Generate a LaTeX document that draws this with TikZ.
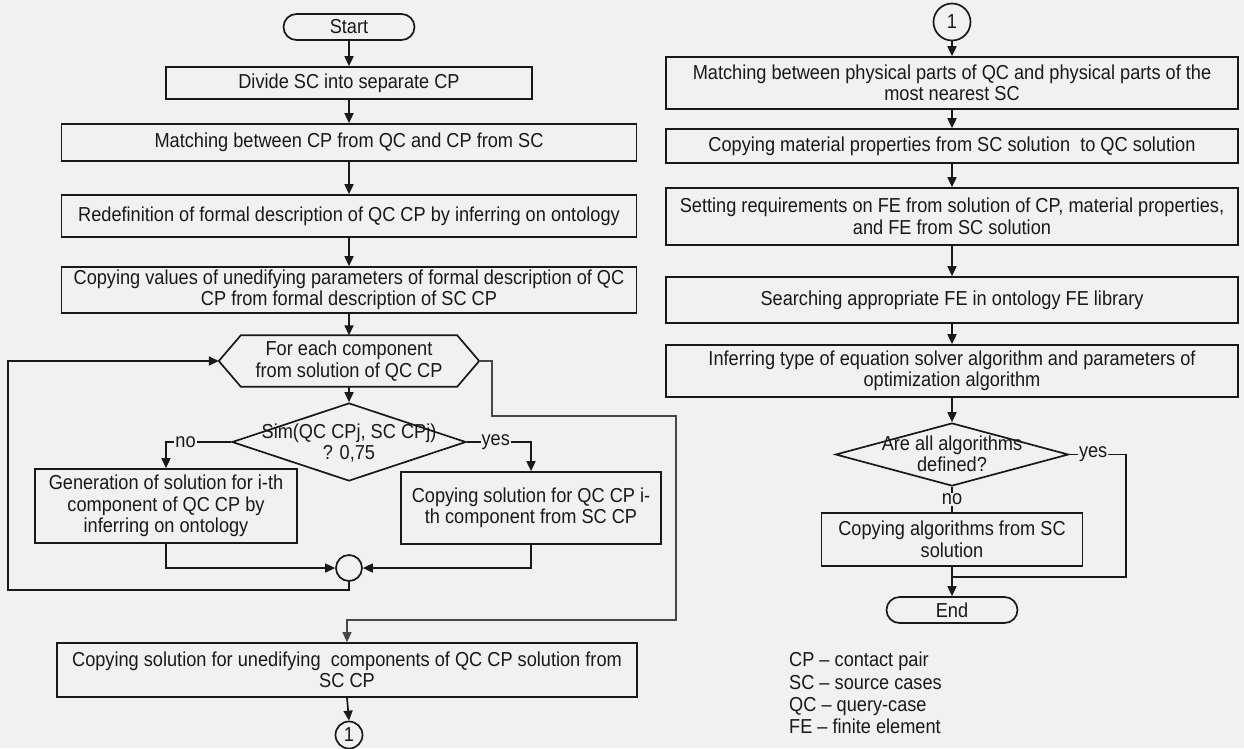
\documentclass[tikz,border=0pt]{standalone}
\usepackage{fontspec}
\setmainfont[FakeStretch=0.9]{Liberation Sans}
\usetikzlibrary{arrows.meta,shapes.geometric,calc}
\definecolor{bg}{RGB}{241,241,241}
\definecolor{ink}{RGB}{25,25,25}
\begin{document}
\begin{tikzpicture}[x=1pt,y=-1pt,
  font=\fontsize{20.2}{21.5}\selectfont,
  every node/.style={text=ink},
  box/.style={draw=ink, line width=1.7pt, rectangle, inner sep=2pt, align=center},
  term/.style={draw=ink, line width=1.7pt, rectangle, rounded corners=13pt, align=center, inner sep=1pt},
  dia/.style={draw=ink, line width=1.7pt, diamond, inner sep=0pt},
  conn/.style={draw=ink, line width=1.7pt, circle, inner sep=0pt},
  ln/.style={draw=ink, line width=1.7pt},
  arr/.style={draw=ink, line width=1.7pt, -{Triangle[length=10pt,width=9pt]}},
  thinarr/.style={draw=ink!80, line width=1.1pt, -{Triangle[length=10pt,width=9pt]}},
  lbl/.style={fill=bg, inner sep=1pt},
]
\fill[bg] (0,0) rectangle (1244,748);
\useasboundingbox (0,0) rectangle (1244,748);

% ---------------- left column ----------------
\node[term, minimum width=131pt, minimum height=26pt] (start) at (349,27) {Start};
\node[box, minimum width=366pt, minimum height=32pt] (b1) at (349,83) {Divide SC into separate CP};
\node[box, minimum width=575pt, minimum height=37pt] (b2) at (349,142.5) {Matching between CP from QC and CP from SC};
\node[box, minimum width=575pt, minimum height=42pt] (b3) at (349,216) {Redefinition of formal description of QC CP by inferring on ontology};
\node[box, minimum width=575pt, minimum height=46pt] (b4) at (349,290) {Copying values of unedifying parameters of formal description of QC\\CP from formal description of SC CP};

\node[rectangle, minimum width=216pt, minimum height=51pt, inner sep=0pt, align=center] (hex) at (349,361) {For each component\\from solution of QC CP};
\coordinate (hexL) at ($(hex.west)+(-22,0)$);
\coordinate (hexR) at ($(hex.east)+(22,0)$);
\draw[ln, line join=miter] (hex.north west) -- (hex.north east) -- (hexR) -- (hex.south east) -- (hex.south west) -- (hexL) -- cycle;

\node[dia, minimum width=234pt, minimum height=78pt] (d1) at (349,442) {};
\node[align=center] (d1t) at (349,443) {Sim(QC CPj, SC CPj)\\? 0,75};

\node[box, minimum width=262pt, minimum height=74pt] (g) at (166,506) {Generation of solution for i-th\\component of QC CP by\\inferring on ontology};
\node[box, minimum width=260pt, minimum height=72pt] (c) at (531,508) {Copying solution for QC CP i-\\th component from SC CP};
\node[conn, minimum size=26pt] (j) at (349,568) {};

\node[box, minimum width=580pt, minimum height=54pt] (f) at (347,670) {Copying solution for unedifying\ \ components of QC CP solution from\\SC CP};
\node[conn, minimum size=27pt] (c1) at (349,735) {1};

\draw[arr] (start) -- (b1);
\draw[arr] (b1) -- (b2);
\draw[arr] (b2) -- (b3);
\draw[arr] (b3) -- (b4);
\draw[arr] (b4.south) -- (hex.north);
\draw[arr] (hex.south) -- (d1.north);
\draw[arr] (d1.west) -- node[lbl, pos=0.7] {no} (g.north |- d1.west) -- (g.north);
\draw[arr] (d1.east) -- node[lbl, pos=0.45] {yes} (c.north |- d1.east) -- (c.north);
\draw[arr] (g.south) -- (g.south |- j.west) -- (j.west);
\draw[arr] (c.south) -- (c.south |- j.east) -- (j.east);
\coordinate (loopL) at (8,590);
\draw[arr] (j.south) -- (j.south |- loopL) -- (loopL) -- (loopL |- hexL) -- (hexL);
\coordinate (ex1) at (492,416);
\coordinate (ex2) at (676,620);
\draw[thinarr] (hexR) -- (hexR -| ex1) -- (ex1) -- (ex1 -| ex2) -- (ex2) -- (ex2 -| f.north) -- (f.north);
\draw[arr] (f.south) -- (c1.north);

% ---------------- right column ----------------
\node[conn, minimum size=37pt] (c1r) at (952,22) {1};
\node[box, minimum width=572pt, minimum height=52pt] (r1) at (952,83) {Matching between physical parts of QC and physical parts of the\\most nearest SC};
\node[box, minimum width=572pt, minimum height=34pt] (r2) at (952,146) {Copying material properties from SC solution\ \ to QC solution};
\node[box, minimum width=572pt, minimum height=57pt] (r3) at (952,216.5) {Setting requirements on FE from solution of CP, material properties,\\and FE from SC solution};
\node[box, minimum width=572pt, minimum height=46pt] (r4) at (952,300) {Searching appropriate FE in ontology FE library};
\node[box, minimum width=572pt, minimum height=52pt] (r5) at (952,371) {Inferring type of equation solver algorithm and parameters of\\optimization algorithm};
\node[dia, minimum width=233pt, minimum height=63pt] (d2) at (952,454.5) {};
\node[align=center] (d2t) at (952,454) {Are all algorithms\\defined?};
\node[box, minimum width=261pt, minimum height=53pt] (a) at (952,539.5) {Copying algorithms from SC\\solution};
\node[term, minimum width=131pt, minimum height=26pt] (end) at (952,610) {End};

\draw[arr] (c1r) -- (r1);
\draw[arr] (r1) -- (r2);
\draw[arr] (r2) -- (r3);
\draw[arr] (r3) -- (r4);
\draw[arr] (r4) -- (r5);
\draw[arr] (r5) -- (d2.north);
\draw[ln] (d2.south) -- node[lbl] {no} (a.north);
\coordinate (yr) at (1126,577);
\draw[ln] (d2.east) -- node[lbl, pos=0.42] {yes} (d2.east -| yr) -- (yr) -- (yr -| a.south);
\draw[ln] (a.south) -- (a.south |- yr);
\draw[arr] (a.south |- yr) -- (end.north);

\node[anchor=north west, align=left, inner sep=0pt, font=\fontsize{20.2}{22.3}\selectfont] (legend) at (789,652) {CP -- contact pair\\SC -- source cases\\QC -- query-case\\FE -- finite element};
\end{tikzpicture}
\end{document}
